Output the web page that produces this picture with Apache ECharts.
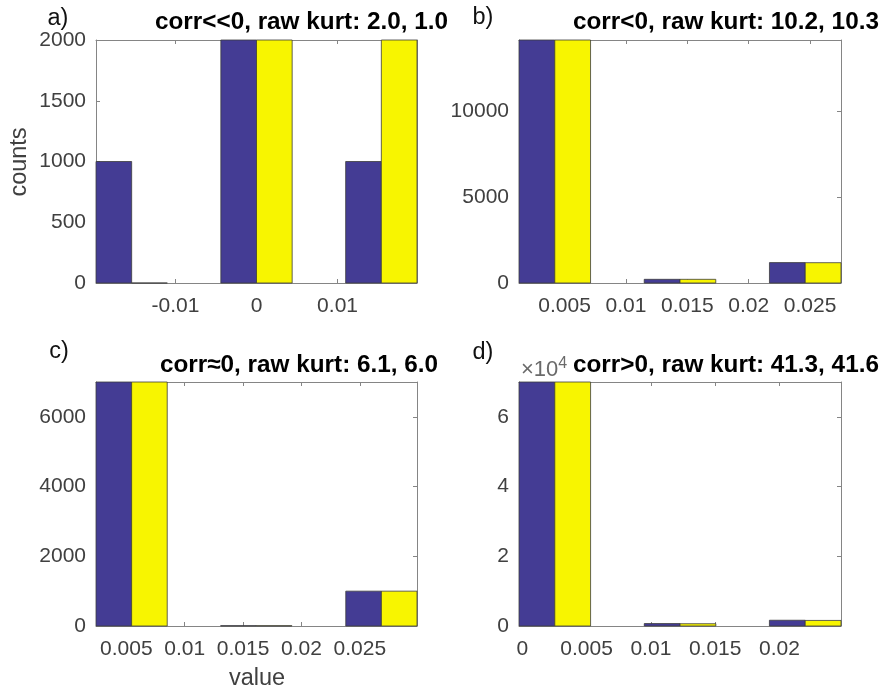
<!DOCTYPE html>
<html>
<head>
<meta charset="utf-8">
<script src="https://cdn.jsdelivr.net/npm/echarts@6/dist/echarts.min.js"></script>
<style>
  html, body { margin: 0; padding: 0; background: #fff; }
  #chart { width: 890px; height: 694px; }
</style>
</head>
<body>
<div id="chart"></div>
<script>
// Bin centres and counts for the four histograms (two series each)
const binsA = [-0.0154, 0, 0.0154];
const countsA1 = [1000, 2000, 1000];
const countsA2 = [0, 2000, 2000];

const binsB = [0.0042, 0.0144, 0.0246];
const countsB1 = [14180, 215, 1190];
const countsB2 = [14180, 215, 1185];

const binsC = [0.00545, 0.01613, 0.02685];
const countsC1 = [7000, 10, 1000];
const countsC2 = [7000, 10, 1000];

const binsD = [0.00253, 0.01227, 0.0220];
const countsD1 = [70000, 700, 1650];
const countsD2 = [70000, 650, 1600];

// x tick positions per panel
const xTicksA = [-0.01, 0, 0.01];
const xTicksB = [0.005, 0.01, 0.015, 0.02, 0.025];
const xTicksC = [0.005, 0.01, 0.015, 0.02, 0.025];
const xTicksD = [0, 0.005, 0.01, 0.015, 0.02];

// y tick positions per panel
const yTicksA = [0, 500, 1000, 1500, 2000];
const yTicksB = [0, 5000, 10000];
const yTicksC = [0, 2000, 4000, 6000];
const yTicksD = [0, 20000, 40000, 60000];

const titles = [
  'corr<<0, raw kurt: 2.0, 1.0',
  'corr<0, raw kurt: 10.2, 10.3',
  'corr\u22480, raw kurt: 6.1, 6.0',
  'corr>0, raw kurt: 41.3, 41.6'
];
const panelTags = ['a)', 'b)', 'c)', 'd)'];

const BLUE = '#443c94';
const YELLOW = '#f8f500';
const BOX = '#858585';
const TXT = '#404040';
const FONT = '"Liberation Sans", Arial, Helvetica, sans-serif';
const TICK_FS = 21;
const LABEL_FS = 23.5;
const TITLE_FS = 24.3;

const panels = [
  { bins: binsA, s1: countsA1, s2: countsA2, xt: xTicksA, yt: yTicksA, yScale: 1 },
  { bins: binsB, s1: countsB1, s2: countsB2, xt: xTicksB, yt: yTicksB, yScale: 1 },
  { bins: binsC, s1: countsC1, s2: countsC2, xt: xTicksC, yt: yTicksC, yScale: 1 },
  { bins: binsD, s1: countsD1, s2: countsD2, xt: xTicksD, yt: yTicksD, yScale: 1e4 }
];

const grids = [
  { left: 96, top: 40, width: 321, height: 243 },
  { left: 519, top: 40, width: 322, height: 243 },
  { left: 96, top: 382, width: 321, height: 244 },
  { left: 519, top: 382, width: 322, height: 244 }
];

// grouped bars: two bars share 2/3.5 of the bin spacing
const GROUP_FRAC = 2 / 3.5;

function fmtNum(v) {
  return String(parseFloat(Number(v).toPrecision(6)));
}

const xAxes = [], yAxes = [], series = [];
panels.forEach((p, i) => {
  const spacing = p.bins[1] - p.bins[0];
  const barW = spacing * GROUP_FRAC / 2;
  const xMin = p.bins[0] - barW;
  const xMax = p.bins[p.bins.length - 1] + barW;
  const yMax = Math.max(...p.s1, ...p.s2);

  const common = {
    gridIndex: i,
    type: 'value',
    splitLine: { show: false },
    axisLine: { show: true, onZero: false, lineStyle: { color: BOX, width: 1 } }
  };
  const tickStyle = { show: true, inside: true, length: 4, lineStyle: { color: BOX } };

  xAxes.push(Object.assign({}, common, {
    position: 'bottom', min: xMin, max: xMax,
    axisTick: Object.assign({ customValues: p.xt }, tickStyle),
    axisLabel: {
      show: true, color: TXT, fontFamily: FONT, fontSize: TICK_FS, margin: 13,
      customValues: p.xt,
      formatter: v => fmtNum(v)
    }
  }));
  xAxes.push(Object.assign({}, common, {
    position: 'top', min: xMin, max: xMax,
    axisTick: Object.assign({ customValues: p.xt }, tickStyle),
    axisLabel: { show: false }
  }));
  yAxes.push(Object.assign({}, common, {
    position: 'left', min: 0, max: yMax,
    axisTick: Object.assign({ customValues: p.yt }, tickStyle),
    axisLabel: {
      show: true, color: TXT, fontFamily: FONT, fontSize: TICK_FS, margin: 10,
      customValues: p.yt,
      formatter: v => fmtNum(v / p.yScale)
    }
  }));
  yAxes.push(Object.assign({}, common, {
    position: 'right', min: 0, max: yMax,
    axisTick: Object.assign({ customValues: p.yt }, tickStyle),
    axisLabel: { show: false }
  }));

  [[p.s1, BLUE, -1], [p.s2, YELLOW, 1]].forEach(([vals, color, side]) => {
    series.push({
      type: 'custom',
      xAxisIndex: 2 * i,
      yAxisIndex: 2 * i,
      data: p.bins.map((c, k) => [c, vals[k]]),
      renderItem: (params, api) => {
        const c = api.value(0), v = api.value(1);
        const x0 = side < 0 ? c - barW : c;
        const x1 = side < 0 ? c : c + barW;
        const p0 = api.coord([x0, v]);
        const p1 = api.coord([x1, 0]);
        return {
          type: 'rect',
          shape: { x: p0[0], y: p0[1], width: p1[0] - p0[0], height: p1[1] - p0[1] },
          style: { fill: color, stroke: '#3c3c3c', lineWidth: 0.8 }
        };
      }
    });
  });
});

const tagPos = [[58, 19], [483, 18], [59, 352], [483, 353]];
const titlePos = [[155, 22], [573, 22], [160, 365], [573, 365]];
const graphics = [];
panelTags.forEach((t, i) => {
  graphics.push({
    type: 'text', x: tagPos[i][0], y: tagPos[i][1],
    style: { text: t, fill: '#111', font: LABEL_FS + 'px ' + FONT, textAlign: 'center', textVerticalAlign: 'middle' }
  });
  graphics.push({
    type: 'text', x: titlePos[i][0], y: titlePos[i][1],
    style: { text: titles[i], fill: '#000', font: 'bold ' + TITLE_FS + 'px ' + FONT, textAlign: 'left', textVerticalAlign: 'middle' }
  });
});
graphics.push({
  type: 'text', x: 20, y: 162, rotation: Math.PI / 2,
  style: { text: 'counts', fill: TXT, font: LABEL_FS + 'px ' + FONT, textAlign: 'center', textVerticalAlign: 'middle' }
});
graphics.push({
  type: 'text', x: 257, y: 679,
  style: { text: 'value', fill: TXT, font: LABEL_FS + 'px ' + FONT, textAlign: 'center', textVerticalAlign: 'middle' }
});
graphics.push({
  type: 'text', x: 521, y: 370,
  style: {
    text: '{a|\u00d710}{b|4}',
    textAlign: 'left', textVerticalAlign: 'middle',
    rich: {
      a: { fill: '#6a6a6a', font: '22px ' + FONT },
      b: { fill: '#6a6a6a', font: '16px ' + FONT, verticalAlign: 'top', padding: [0, 0, 12, 0] }
    }
  }
});

const chart = echarts.init(document.getElementById('chart'), null, { renderer: 'canvas' });
chart.setOption({
  backgroundColor: '#fff',
  animation: false,
  grid: grids.map(g => Object.assign({ outerBoundsMode: 'none', containLabel: false }, g)),
  xAxis: xAxes,
  yAxis: yAxes,
  series: series,
  graphic: graphics
});
</script>
</body>
</html>
